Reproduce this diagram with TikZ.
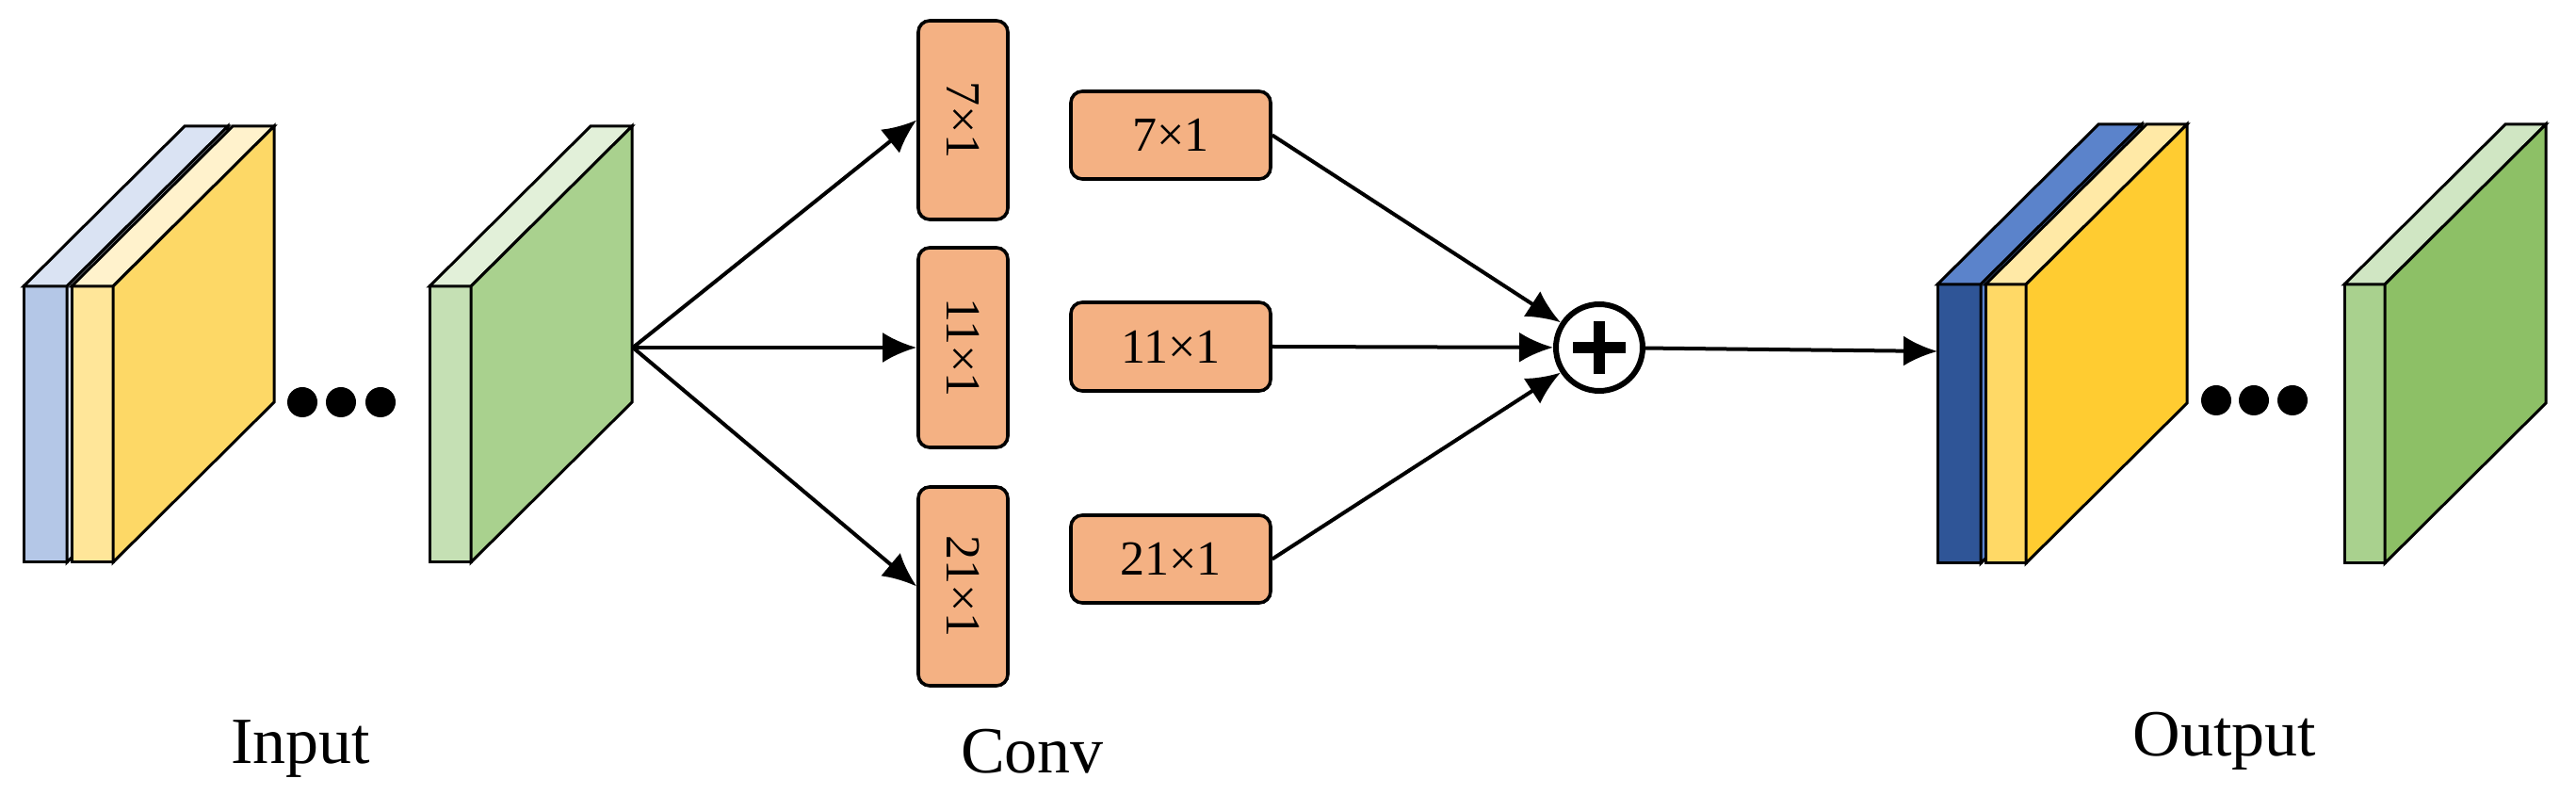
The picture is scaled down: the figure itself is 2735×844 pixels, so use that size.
\documentclass[tikz,border=0pt]{standalone}
\usepackage{fontspec}
\setmainfont{Liberation Serif}
\usetikzlibrary{arrows.meta}

\definecolor{inBlueF}{HTML}{B4C7E7}
\definecolor{inBlueT}{HTML}{DAE3F3}
\definecolor{inYelF}{HTML}{FFE699}
\definecolor{inYelT}{HTML}{FFF2CC}
\definecolor{inYelS}{HTML}{FDD866}
\definecolor{inGrnF}{HTML}{C5E0B4}
\definecolor{inGrnT}{HTML}{E2F0D9}
\definecolor{inGrnS}{HTML}{A9D18E}
\definecolor{outBlueF}{HTML}{2F5597}
\definecolor{outBlueT}{HTML}{5B83CB}
\definecolor{outYelF}{HTML}{FFD966}
\definecolor{outYelT}{HTML}{FFE9A6}
\definecolor{outYelS}{HTML}{FFCC31}
\definecolor{outGrnF}{HTML}{A9D18E}
\definecolor{outGrnT}{HTML}{D0E6C3}
\definecolor{outGrnS}{HTML}{8DC066}
\definecolor{convFill}{HTML}{F4B183}

% slab: x0, x1, top, bottom, front, top face, side face
\newcommand{\slab}[7]{%
  \draw [fill=#5] (#1,#3) rectangle (#2,#4);
  \draw [fill=#6] (#1,#3) -- (#1+171,#3-170) -- (#2+171,#3-170) -- (#2,#3) -- cycle;
  \draw [fill=#7] (#2,#3) -- (#2+171,#3-170) -- (#2+171,#4-170) -- (#2,#4) -- cycle;
}

\tikzset{
  every picture/.style={line width=0.75pt},
  convbox/.style={draw, fill=convFill, rounded corners=3pt, line width=0.9pt, inner sep=0pt},
  arr/.style={line width=1pt, -{Latex[length=9pt,width=8pt]}},
  dot/.style={fill=black, circle, inner sep=0pt, minimum size=8pt},
  caption/.style={font=\fontsize{17.5}{20}\selectfont, anchor=base}
}

\begin{document}
\begin{tikzpicture}[x=0.25pt,y=0.25pt,yscale=-1,xscale=1]
\useasboundingbox (0,0) rectangle (2735,844);

% Input
\slab{25}{71}{304}{597}{inBlueF}{inBlueT}{inBlueT}
\slab{76}{120}{304}{597}{inYelF}{inYelT}{inYelS}
\foreach \x/\n in {321/a,362/b,404/c} \node [dot] (din\n) at (\x,427) {};
\slab{456}{500}{304}{597}{inGrnF}{inGrnT}{inGrnS}
\coordinate (split) at (672,369);

% Conv branches
\node [convbox, minimum width=23.75pt, minimum height=52.75pt] (v7) at (1022.5,127.5) {\rotatebox{-90}{\fontsize{13}{15}\selectfont 7×1}};
\node [convbox, minimum width=23.75pt, minimum height=53pt] (v11) at (1022.5,369) {\rotatebox{-90}{\fontsize{13}{15}\selectfont 11×1}};
\node [convbox, minimum width=23.75pt, minimum height=52.75pt] (v21) at (1022.5,622.5) {\rotatebox{-90}{\fontsize{13}{15}\selectfont 21×1}};

\node [convbox, minimum width=53pt, minimum height=23.25pt, font=\fontsize{13}{15}\selectfont] (h7) at (1243,143.5) {7×1};
\node [convbox, minimum width=53pt, minimum height=23.5pt, font=\fontsize{13}{15}\selectfont] (h11) at (1243,368) {11×1};
\node [convbox, minimum width=53pt, minimum height=23.25pt, font=\fontsize{13}{15}\selectfont] (h21) at (1243,593.5) {21×1};

% Sum
\node [draw, circle, line width=1.5pt, fill=white, minimum size=23pt, inner sep=0pt] (sum) at (1698,369) {};
\draw [line width=3.2pt] ([xshift=-7pt]sum.center) -- ([xshift=7pt]sum.center);
\draw [line width=3.2pt] ([yshift=-7pt]sum.center) -- ([yshift=7pt]sum.center);

\draw [arr] (split) -- (v7.west);
\draw [arr] (split) -- (v11.west);
\draw [arr] (split) -- (v21.west);
\draw [arr] (h7.east) -- (sum);
\draw [arr] (h11.east) -- (sum);
\draw [arr] (h21.east) -- (sum);

% Output
\coordinate (merge) at (2057,373);
\draw [arr] (sum) -- (merge);
\slab{2057}{2103}{302}{598}{outBlueF}{outBlueT}{outBlueT}
\slab{2108}{2151}{302}{598}{outYelF}{outYelT}{outYelS}
\foreach \x/\n in {2353/a,2393/b,2434/c} \node [dot] (dout\n) at (\x,425) {};
\slab{2489}{2532}{302}{598}{outGrnF}{outGrnT}{outGrnS}

% Labels
\node [caption] (lin) at (319,811) {Input};
\node [caption] (lconv) at (1096,821) {Conv};
\node [caption] (lout) at (2362,803) {Output};

\end{tikzpicture}
\end{document}
